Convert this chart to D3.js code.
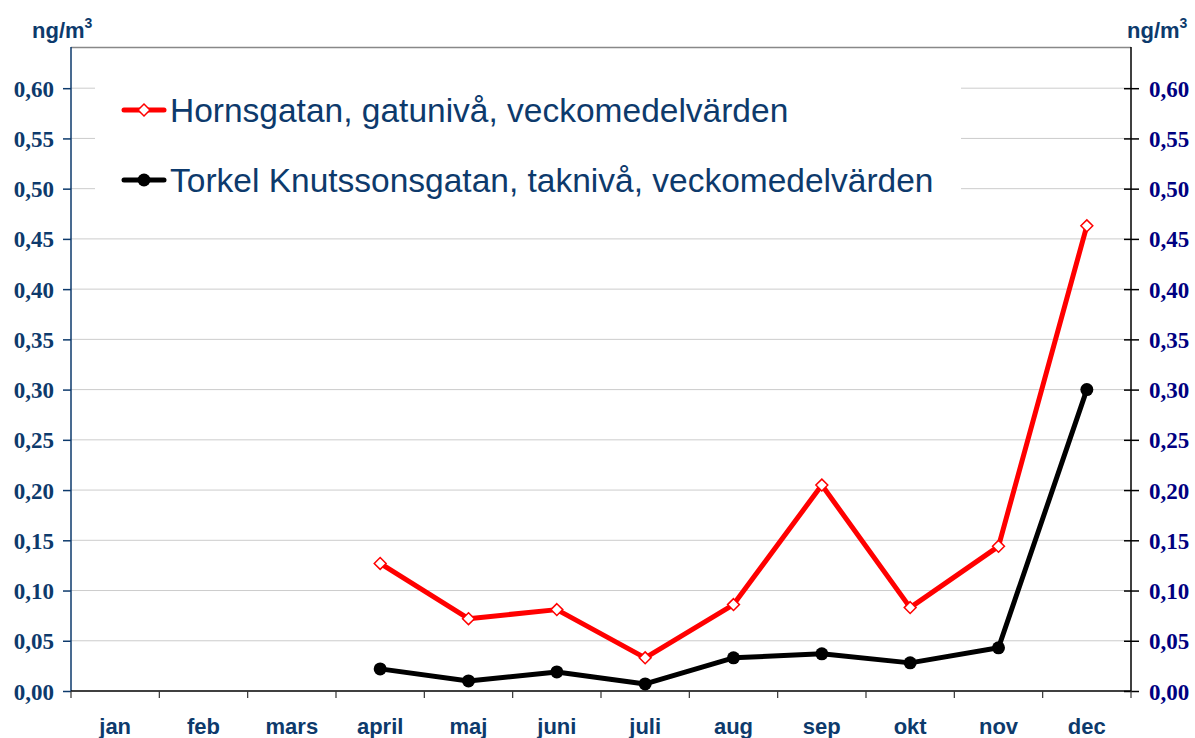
<!DOCTYPE html>
<html lang="sv">
<head>
<meta charset="UTF-8">
<title>Hornsgatan / Torkel Knutssonsgatan</title>
<script src="https://d3js.org/d3.v7.min.js"></script>
<style>
  body { margin: 0; background: #fff; }
</style>
</head>
<body>
<svg id="chart" width="1195" height="738"></svg>
<script>
// months on the x axis
var months = ["jan", "feb", "mars", "april", "maj", "juni", "juli", "aug", "sep", "okt", "nov", "dec"];
// weekly means, ng/m3 (null = no data)
var hornsgatan = [null, null, null, 0.127, 0.072, 0.081, 0.033, 0.086, 0.205, 0.083, 0.144, 0.463];
var torkel     = [null, null, null, 0.022, 0.010, 0.019, 0.007, 0.033, 0.037, 0.028, 0.043, 0.300];
var yTicks = [0, 0.05, 0.10, 0.15, 0.20, 0.25, 0.30, 0.35, 0.40, 0.45, 0.50, 0.55, 0.60];
var seriesNames = ["Hornsgatan, gatunivå, veckomedelvärden", "Torkel Knutssonsgatan, taknivå, veckomedelvärden"];

var svg = d3.select("#chart");
var plotLeft = 71, plotRight = 1131, plotTop = 47, plotBottom = 691;
var textBlue = "#0d3a6c";

var x = d3.scaleBand().domain(months).range([plotLeft, plotRight]);
var y = d3.scaleLinear().domain([0, 0.641]).range([plotBottom, plotTop]);
var fmt = d => d3.format(".2f")(d).replace(".", ",");

// gridlines
svg.append("g").selectAll("line")
  .data(yTicks.filter(d => d > 0))
  .join("line")
  .attr("x1", plotLeft).attr("x2", plotRight)
  .attr("y1", d => y(d)).attr("y2", d => y(d))
  .attr("stroke", "#cccccc").attr("stroke-width", 1);

// top border
svg.append("line")
  .attr("x1", plotLeft).attr("x2", plotRight).attr("y1", plotTop + 0.5).attr("y2", plotTop + 0.5)
  .attr("stroke", "#888").attr("stroke-width", 1.5);

// legend background covers the gridlines
svg.append("rect")
  .attr("x", 95).attr("y", 72).attr("width", 866).attr("height", 130)
  .attr("fill", "#fff");

// left axis
var yl = svg.append("g").attr("transform", "translate(" + plotLeft + ",0)")
  .call(d3.axisLeft(y).tickValues(yTicks).tickSize(8).tickFormat(fmt));
yl.select(".domain").attr("stroke", textBlue).attr("stroke-width", 1.5).attr("d", "M0," + plotBottom + "V" + plotTop);
yl.selectAll(".tick line").attr("stroke", textBlue).attr("stroke-width", 1.5);
yl.selectAll(".tick text")
  .attr("x", -17).attr("dy", "0.35em")
  .attr("fill", textBlue)
  .style("font", "bold 23px 'Liberation Serif', 'Times New Roman', serif");

// right axis
var yr = svg.append("g").attr("transform", "translate(" + plotRight + ",0)")
  .call(d3.axisRight(y).tickValues(yTicks).tickSize(8).tickFormat(fmt));
yr.select(".domain").attr("stroke", "#000").attr("stroke-width", 1.5).attr("d", "M0," + plotBottom + "V" + plotTop);
yr.selectAll(".tick line").attr("stroke", "#000").attr("stroke-width", 1.5).attr("x1", -7);
yr.selectAll(".tick text")
  .attr("x", 18).attr("dy", "0.35em")
  .attr("fill", "#000080")
  .style("font", "bold 23px 'Liberation Serif', 'Times New Roman', serif");

// x axis
svg.append("line")
  .attr("x1", plotLeft).attr("x2", plotRight).attr("y1", plotBottom).attr("y2", plotBottom)
  .attr("stroke", "#000").attr("stroke-width", 1.5);
svg.append("g").selectAll("line")
  .data(d3.range(months.length + 1))
  .join("line")
  .attr("x1", i => plotLeft + i * x.step()).attr("x2", i => plotLeft + i * x.step())
  .attr("y1", plotBottom).attr("y2", plotBottom + 7)
  .attr("stroke", "#333").attr("stroke-width", 1.2);
svg.append("g").selectAll("text")
  .data(months)
  .join("text")
  .attr("x", d => x(d) + x.bandwidth() / 2)
  .attr("y", 734)
  .attr("text-anchor", "middle")
  .attr("fill", textBlue)
  .style("font", "bold 22px 'Liberation Sans', Arial, sans-serif")
  .text(d => d);

// unit labels
[32, 1127].forEach(function (ux) {
  var t = svg.append("text").attr("x", ux).attr("y", 38)
    .attr("fill", textBlue)
    .style("font", "bold 22px 'Liberation Sans', Arial, sans-serif");
  t.append("tspan").text("ng/m");
  t.append("tspan").attr("dy", -10).style("font-size", "14px").text("3");
});

// lines
var line = d3.line()
  .defined(d => d != null)
  .x((d, i) => x(months[i]) + x.bandwidth() / 2)
  .y(d => y(d));

svg.append("path").datum(hornsgatan)
  .attr("d", line).attr("fill", "none")
  .attr("stroke", "#ff0000").attr("stroke-width", 5).attr("stroke-linejoin", "round");
svg.append("path").datum(torkel)
  .attr("d", line).attr("fill", "none")
  .attr("stroke", "#000").attr("stroke-width", 5).attr("stroke-linejoin", "round");

var diamond = d3.symbol().type(d3.symbolDiamond2).size(90);

svg.append("g").selectAll("path")
  .data(hornsgatan.map((v, i) => ({ v: v, m: months[i] })).filter(d => d.v != null))
  .join("path")
  .attr("transform", d => "translate(" + (x(d.m) + x.bandwidth() / 2) + "," + y(d.v) + ")")
  .attr("d", diamond)
  .attr("fill", "#fff").attr("stroke", "#ff0000").attr("stroke-width", 1.5);

svg.append("g").selectAll("circle")
  .data(torkel.map((v, i) => ({ v: v, m: months[i] })).filter(d => d.v != null))
  .join("circle")
  .attr("cx", d => x(d.m) + x.bandwidth() / 2)
  .attr("cy", d => y(d.v))
  .attr("r", 6.5)
  .attr("fill", "#000");

// legend
var legend = svg.append("g");
[{ name: seriesNames[0], color: "#ff0000", ly: 110 }, { name: seriesNames[1], color: "#000", ly: 180 }]
  .forEach(function (s, i) {
    legend.append("line")
      .attr("x1", 124).attr("x2", 164).attr("y1", s.ly).attr("y2", s.ly)
      .attr("stroke", s.color).attr("stroke-width", 5).attr("stroke-linecap", "round");
    if (i === 0) {
      legend.append("path").attr("transform", "translate(144," + s.ly + ")")
        .attr("d", diamond).attr("fill", "#fff").attr("stroke", s.color).attr("stroke-width", 1.5);
    } else {
      legend.append("circle").attr("cx", 144).attr("cy", s.ly).attr("r", 6.5).attr("fill", s.color);
    }
    legend.append("text")
      .attr("x", 170).attr("y", s.ly + 12)
      .attr("fill", textBlue)
      .style("font", "33.5px 'Liberation Sans', Arial, sans-serif")
      .text(s.name);
  });
</script>
</body>
</html>
